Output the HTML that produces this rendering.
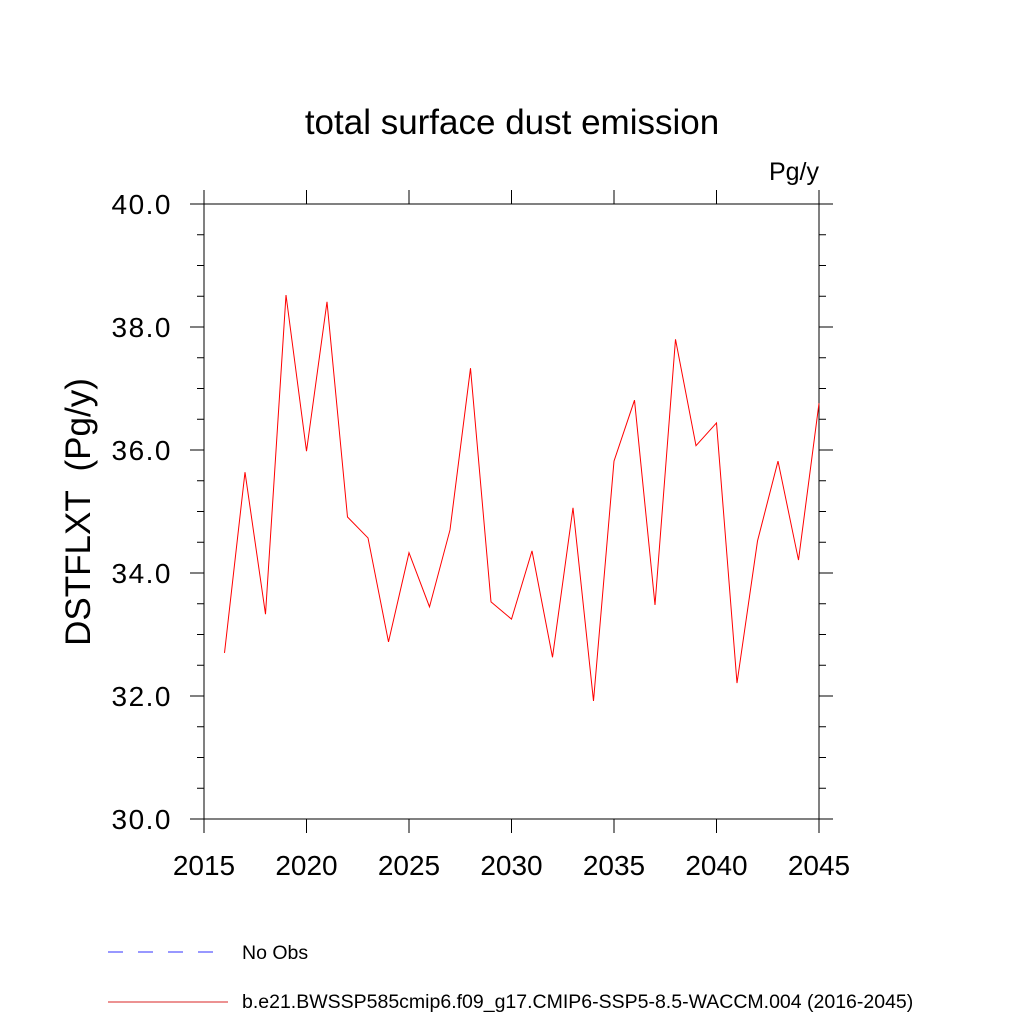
<!DOCTYPE html>
<html><head><meta charset="utf-8"><style>
body{margin:0;background:#fff}
svg text{font-family:"Liberation Sans",Arial,sans-serif;fill:#000}
</style></head><body>
<svg id="c" width="1024" height="1024" xmlns="http://www.w3.org/2000/svg">
<text x="512" y="134" font-size="35" text-anchor="middle">total surface dust emission</text>
<text x="819" y="180" font-size="25" text-anchor="end">Pg/y</text>
<text transform="translate(90,512) rotate(-90)" font-size="35" text-anchor="middle" xml:space="preserve" style="white-space:pre">DSTFLXT  (Pg/y)</text>
<g id="axes"></g>
<g id="series"></g>
<g>
<line x1="108" y1="952" x2="216" y2="952" stroke="#5a5aff" stroke-width="1.2" stroke-dasharray="15,15"/>
<text x="242" y="959" font-size="19.5">No Obs</text>
<line x1="108" y1="1002" x2="228" y2="1002" stroke="#e05050" stroke-width="1.2"/>
<text x="242" y="1008" font-size="19.5">b.e21.BWSSP585cmip6.f09_g17.CMIP6-SSP5-8.5-WACCM.004 (2016-2045)</text>
</g>
</svg>
<script>
const years=[2016,2017,2018,2019,2020,2021,2022,2023,2024,2025,2026,2027,2028,2029,2030,2031,2032,2033,2034,2035,2036,2037,2038,2039,2040,2041,2042,2043,2044,2045];
const values=[32.70,35.64,33.33,38.52,35.98,38.41,34.91,34.57,32.88,34.33,33.45,34.70,37.33,33.53,33.25,34.36,32.63,35.06,31.92,35.82,36.81,33.48,37.80,36.07,36.44,32.21,34.52,35.82,34.21,36.76];
const xTicks=[2015,2020,2025,2030,2035,2040,2045];
const yTicks=[30,32,34,36,38,40];
const yTickLabels=["30.0","32.0","34.0","36.0","38.0","40.0"];
const X0=204,X1=819,Y0=204,Y1=819;
const xs=v=>X0+(v-2015)/(2045-2015)*(X1-X0);
const ys=v=>Y1-(v-30)/(40-30)*(Y1-Y0);
const NS="http://www.w3.org/2000/svg";
const ax=document.getElementById('axes');
function mk(t,a,p){const e=document.createElementNS(NS,t);for(const k in a)e.setAttribute(k,a[k]);p.appendChild(e);return e;}
const fr=mk('rect',{x:X0,y:Y0,width:X1-X0,height:Y1-Y0,fill:'none',stroke:'#000','stroke-width':1},ax);


xTicks.forEach(v=>{const x=xs(v);
 const t1=mk('line',{x1:x,y1:Y1,x2:x,y2:Y1+14,stroke:'#000'},ax);
 
 
 const t2=mk('line',{x1:x,y1:Y0,x2:x,y2:Y0-14,stroke:'#000'},ax);
 
 
 const t=mk('text',{x:x,y:875,'font-size':28,'text-anchor':'middle'},ax);t.textContent=v;
 
 });
for(let v=30;v<=40.001;v+=0.5){const maj=Math.abs(v-Math.round(v/2)*2)<1e-6;const L=maj?14:7;const y=ys(v);
 const t1=mk('line',{x1:X0,y1:y,x2:X0-L,y2:y,stroke:'#000'},ax);
 
 
 const t2=mk('line',{x1:X1,y1:y,x2:X1+L,y2:y,stroke:'#000'},ax);
 
 }
yTicks.forEach((v,i)=>{const t=mk('text',{x:172,y:ys(v)+10,'font-size':28,'text-anchor':'end','letter-spacing':'1.5'},ax);t.textContent=yTickLabels[i];
 
 });
const pl=mk('polyline',{points:years.map((y,i)=>xs(y)+','+ys(values[i])).join(' '),fill:'none',stroke:'#ff0000','stroke-width':1},document.getElementById('series'));


</script>
</body></html>
